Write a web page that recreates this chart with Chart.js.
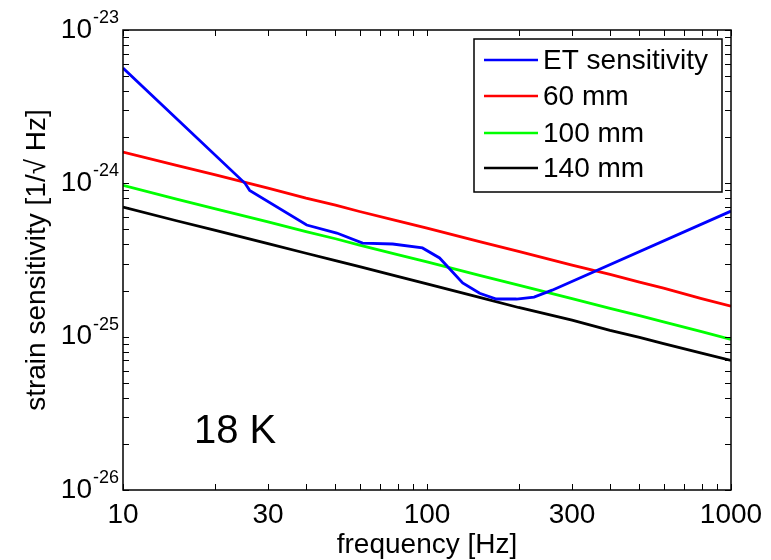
<!DOCTYPE html>
<html><head><meta charset="utf-8">
<script src="https://cdn.jsdelivr.net/npm/chart.js@4/dist/chart.umd.min.js"></script>
<style>html,body{margin:0;padding:0;background:#fff}</style>
</head><body>
<canvas id="c" width="771" height="560"></canvas>
<script>
// ---- data ----
const etFreq   = [10, 25.2, 26.1, 40.2, 50.5, 61.4, 77.1, 96.6, 110, 131, 149, 169, 197, 225, 258, 1000];
const etValues = [5.65e-24, 1.0e-24, 9.0e-25, 5.35e-25, 4.74e-25, 4.08e-25, 4.02e-25, 3.79e-25, 3.26e-25, 2.24e-25, 1.92e-25, 1.76e-25, 1.76e-25, 1.81e-25, 2.01e-25, 6.59e-25];
const lineFreq = [10, 15, 20, 30, 40, 50, 60, 80, 100, 150, 200, 300, 400, 500, 600, 800, 1000];
const mm60  = [1.6e-24, 1.31e-24, 1.14e-24, 9.3e-25, 8.0e-25, 7.2e-25, 6.55e-25, 5.7e-25, 5.1e-25, 4.15e-25, 3.6e-25, 2.93e-25, 2.55e-25, 2.27e-25, 2.07e-25, 1.77e-25, 1.58e-25];
const mm100 = [9.7e-25, 7.9e-25, 6.85e-25, 5.6e-25, 4.85e-25, 4.35e-25, 3.95e-25, 3.43e-25, 3.07e-25, 2.5e-25, 2.17e-25, 1.77e-25, 1.53e-25, 1.37e-25, 1.25e-25, 1.08e-25, 9.6e-26];
const mm140 = [7.0e-25, 5.7e-25, 4.95e-25, 4.04e-25, 3.5e-25, 3.13e-25, 2.86e-25, 2.47e-25, 2.21e-25, 1.8e-25, 1.55e-25, 1.28e-25, 1.1e-25, 9.9e-26, 9.0e-26, 7.8e-26, 7.0e-26];
const seriesLabels = ['ET sensitivity', '60 mm', '100 mm', '140 mm'];
const seriesColors = ['#0000ff', '#ff0000', '#00ff00', '#000000'];
const xTickValues = [10, 30, 100, 300, 1000];
const yTickExponents = [-26, -25, -24, -23];
const xTitle = 'frequency [Hz]';
const yTitle = 'strain sensitivity [1/\u221A Hz]';
const annotationText = '18 K';

const FONT = '"Liberation Sans", Arial, Helvetica, sans-serif';
Chart.defaults.font.family = FONT;
Chart.defaults.color = '#000';

const toPts = (xs, ys) => xs.map((f, i) => ({x: f, y: ys[i]}));
const seriesData = [toPts(etFreq, etValues), toPts(lineFreq, mm60), toPts(lineFreq, mm100), toPts(lineFreq, mm140)];

const framePlugin = {
  id: 'frame',
  afterDraw(chart) {
    const {ctx, chartArea: a, scales: {x, y}} = chart;
    ctx.save();
    const L = 6;
    ctx.strokeStyle = '#000';
    ctx.lineWidth = 1;
    const seg = (x1, y1, x2, y2) => { ctx.beginPath(); ctx.moveTo(x1, y1); ctx.lineTo(x2, y2); ctx.stroke(); };
    for (let k = 1; k <= 3; k++) for (let m = 1; m <= 9; m++) {
      const v = m * Math.pow(10, k);
      if (v < 10 || v > 1000) continue;
      const px = Math.round(x.getPixelForValue(v)) + 0.5;
      seg(px, a.bottom, px, a.bottom - L);
      seg(px, a.top, px, a.top + L);
    }
    for (let k = -26; k <= -23; k++) for (let m = 1; m <= 9; m++) {
      const v = m * Math.pow(10, k);
      if (k === -23 && m > 1) continue;
      const py = Math.round(y.getPixelForValue(v)) + 0.5;
      seg(a.left, py, a.left + L, py);
      seg(a.right, py, a.right - L, py);
    }
    ctx.lineWidth = 1.5;
    ctx.strokeRect(a.left, a.top, a.right - a.left, a.bottom - a.top);
    ctx.fillStyle = '#000';
    yTickExponents.forEach(e => {
      const py = y.getPixelForValue(Math.pow(10, e));
      ctx.font = '28px ' + FONT;
      ctx.textAlign = 'right';
      ctx.textBaseline = 'middle';
      ctx.fillText('10', a.left - 31, py);
      ctx.font = '18px ' + FONT;
      ctx.textAlign = 'left';
      ctx.textBaseline = 'alphabetic';
      ctx.fillText(String(e), a.left - 30, py - 7);
    });
    ctx.font = '40px ' + FONT;
    ctx.textAlign = 'left';
    ctx.textBaseline = 'alphabetic';
    ctx.fillText(annotationText, 194, 443);
    const lx = 474, ly = 39, lw = 248, lh = 153;
    ctx.fillStyle = '#fff';
    ctx.fillRect(lx, ly, lw, lh);
    ctx.lineWidth = 1.5;
    ctx.strokeStyle = '#000';
    ctx.strokeRect(lx, ly, lw, lh);
    const rows = [60, 96, 133, 168];
    chart.data.datasets.forEach((ds, i) => {
      ctx.strokeStyle = ds.borderColor;
      ctx.lineWidth = 2.5;
      seg(484, rows[i], 538, rows[i]);
      ctx.fillStyle = '#000';
      ctx.font = '28px ' + FONT;
      ctx.textAlign = 'left';
      ctx.textBaseline = 'middle';
      ctx.fillText(ds.label, 543, rows[i] + 1);
    });
    ctx.restore();
  }
};

new Chart(document.getElementById('c'), {
  type: 'line',
  data: {
    datasets: seriesLabels.map((lab, i) => ({
      label: lab,
      data: seriesData[i],
      borderColor: seriesColors[i],
      backgroundColor: seriesColors[i],
      borderWidth: 2.8,
      pointRadius: 0,
      tension: 0,
      fill: false
    }))
  },
  options: {
    responsive: false,
    animation: false,
    devicePixelRatio: 1,
    layout: {padding: {left: 0, top: 30, right: 40, bottom: 0}},
    plugins: {legend: {display: false}, tooltip: {enabled: false}},
    scales: {
      x: {
        type: 'logarithmic', min: 10, max: 1000,
        grid: {display: false}, border: {display: false},
        afterBuildTicks: s => { s.ticks = xTickValues.map(v => ({value: v})); },
        afterFit: s => { s.height = 70; },
        ticks: {autoSkip: false, maxRotation: 0, padding: 0, font: {size: 28}, color: '#000',
                callback: v => String(v)},
        title: {display: true, text: xTitle, font: {size: 28, lineHeight: 1}, padding: {top: 0, bottom: 1}, color: '#000'}
      },
      y: {
        type: 'logarithmic', min: 1e-26, max: 1e-23,
        grid: {display: false}, border: {display: false},
        ticks: {display: false},
        afterFit: s => { s.width = 123; },
        title: {display: true, text: yTitle, font: {size: 28, lineHeight: 1.2}, padding: {top: 20, bottom: 0}, color: '#000'}
      }
    }
  },
  plugins: [framePlugin]
});
</script>
</body></html>
